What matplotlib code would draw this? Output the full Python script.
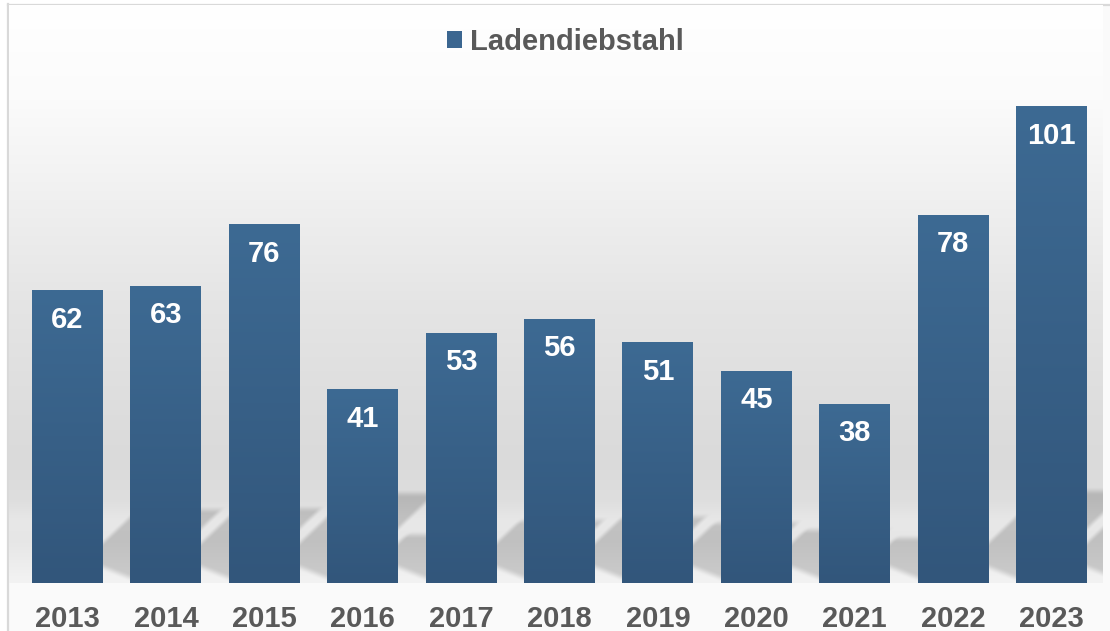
import numpy as np
import matplotlib
matplotlib.use("Agg")
import matplotlib.pyplot as plt
from matplotlib.patches import Patch, Rectangle
from matplotlib.lines import Line2D
from matplotlib.colors import to_rgb

# ---------------- data ----------------
years = ["2013", "2014", "2015", "2016", "2017", "2018", "2019", "2020", "2021", "2022", "2023"]
values = [62, 63, 76, 41, 53, 56, 51, 45, 38, 78, 101]
series_name = "Ladendiebstahl"

# ---------------- style ----------------
plt.rcParams["font.family"] = ["Liberation Sans", "DejaVu Sans"]
W, H = 1110, 631
TEXT_GRAY = "#595959"
BAR_TOP = "#3d6a93"
BAR_BOTTOM = "#32567b"
LEGEND_BLUE = "#3b6690"
FRAME = "#d9d9d9"
BAR_WIDTH = 0.72

fig = plt.figure(figsize=(W / 100, H / 100), dpi=100, facecolor="white")

# light fill inside the frame + frame lines
fig.add_artist(Rectangle((8 / W, 0), 1, (H - 4) / H, transform=fig.transFigure,
                         facecolor="#fafafa", edgecolor="none", zorder=-5))
fig.add_artist(Line2D([8 / W, 1], [1 - 4.5 / H, 1 - 4.5 / H], transform=fig.transFigure,
                      color=FRAME, lw=1.6, zorder=-4))
fig.add_artist(Line2D([8.3 / W, 8.3 / W], [0, 1 - 4 / H], transform=fig.transFigure,
                      color=FRAME, lw=1.6, zorder=-4))

# plot area (pixels: x 9..1103, y from top 5..583)
ax_left, ax_right, ax_top, ax_base = 9, 1103, 5, 583
ax = fig.add_axes([ax_left / W, (H - ax_base) / H, (ax_right - ax_left) / W, (ax_base - ax_top) / H])
x = np.arange(len(values))
xlim = (-0.5945, len(values) - 0.4766)
ylim = (0, 122.4)
ax.set_xlim(*xlim)
ax.set_ylim(*ylim)

# ---------------- background gradient with perspective bar shadows ----------------
ny, nx = ax_base - ax_top, ax_right - ax_left
ypix = ax_top + np.arange(ny) + 0.5           # from top of figure
xpix = ax_left + np.arange(nx) + 0.5
stops_y = [5, 100, 200, 300, 400, 460, 500, 522, 540, 560, 583]
stops_v = [255, 251, 240, 229, 222, 218, 222, 232, 230, 236, 243]
bg = np.interp(ypix, stops_y, stops_v)[:, None] * np.ones(nx)[None, :]

X, Y = np.meshgrid(xpix, ypix)


def soft(t):
    t = np.clip(t, 0, 1)
    return t * t * (3 - 2 * t)


base_disp = ax.transData.transform((0, 0))[1]
base_px = H - base_disp
V = base_px - Y                                   # height above base in px
shade = np.zeros_like(bg)
for xi, val in zip(x, values):
    cxd, topd = ax.transData.transform((xi, val))
    x1d = ax.transData.transform((xi + BAR_WIDTH / 2, 0))[0]
    hpx = topd - base_disp
    T = 0.25 * hpx
    xL = x1d - 42 + V / 0.95
    xR = x1d + 41 + V / 0.95
    vB = 0.4 * (x1d + 40 - X)
    e = 9.0
    m = (soft((X - xL) / e + 0.5) * soft((xR - X) / e + 0.5)
         * soft((V - vB) / e + 0.5) * soft((T - V) / e + 0.5))
    shade = np.maximum(shade, m)
bg = bg - 38 * shade
img = np.clip(np.dstack([bg, bg, bg]) / 255.0, 0, 1)
ax.imshow(img, extent=(xlim[0], xlim[1], ylim[0], ylim[1]), aspect="auto",
          origin="upper", interpolation="bilinear", zorder=0)

# ---------------- bars with vertical gradient ----------------
bars = ax.bar(x, values, width=BAR_WIDTH, color="none", linewidth=0, zorder=3)
c_top, c_bot = np.array(to_rgb(BAR_TOP)), np.array(to_rgb(BAR_BOTTOM))
t = np.linspace(0, 1, 256)[:, None]
grad = (c_top[None, :] * (1 - t) + c_bot[None, :] * t)[:, None, :]
for rect in bars:
    x0, w, h = rect.get_x(), rect.get_width(), rect.get_height()
    im = ax.imshow(grad, extent=(x0, x0 + w, 0, h), aspect="auto", origin="upper",
                   interpolation="bilinear", zorder=3)
    im.set_clip_path(rect)

# value labels
for xi, val in zip(x, values):
    ax.annotate(str(val), (xi, val), xytext=(0, -27.0), textcoords="offset points",
                ha="center", va="baseline", color="white", fontsize=21,
                fontweight="bold", zorder=5)

ax.set_xlim(*xlim)
ax.set_ylim(*ylim)

# axes cosmetics
ax.set_xticks(x, years)
ax.tick_params(axis="x", length=0, pad=15.5, labelsize=21, labelcolor=TEXT_GRAY)
for lab in ax.get_xticklabels():
    lab.set_fontweight("bold")
ax.set_yticks([])
for s in ax.spines.values():
    s.set_visible(False)

# legend
leg = ax.legend(handles=[Patch(facecolor=LEGEND_BLUE, edgecolor="none")], labels=[series_name],
                loc="center", bbox_to_anchor=(565.5 / W, 1 - 42 / H),
                bbox_transform=fig.transFigure, frameon=False,
                handlelength=0.52, handleheight=0.52, handletextpad=0.28,
                prop={"size": 21, "weight": "bold"}, labelcolor=TEXT_GRAY)

fig.savefig("out.png", dpi=100, facecolor=fig.get_facecolor())
